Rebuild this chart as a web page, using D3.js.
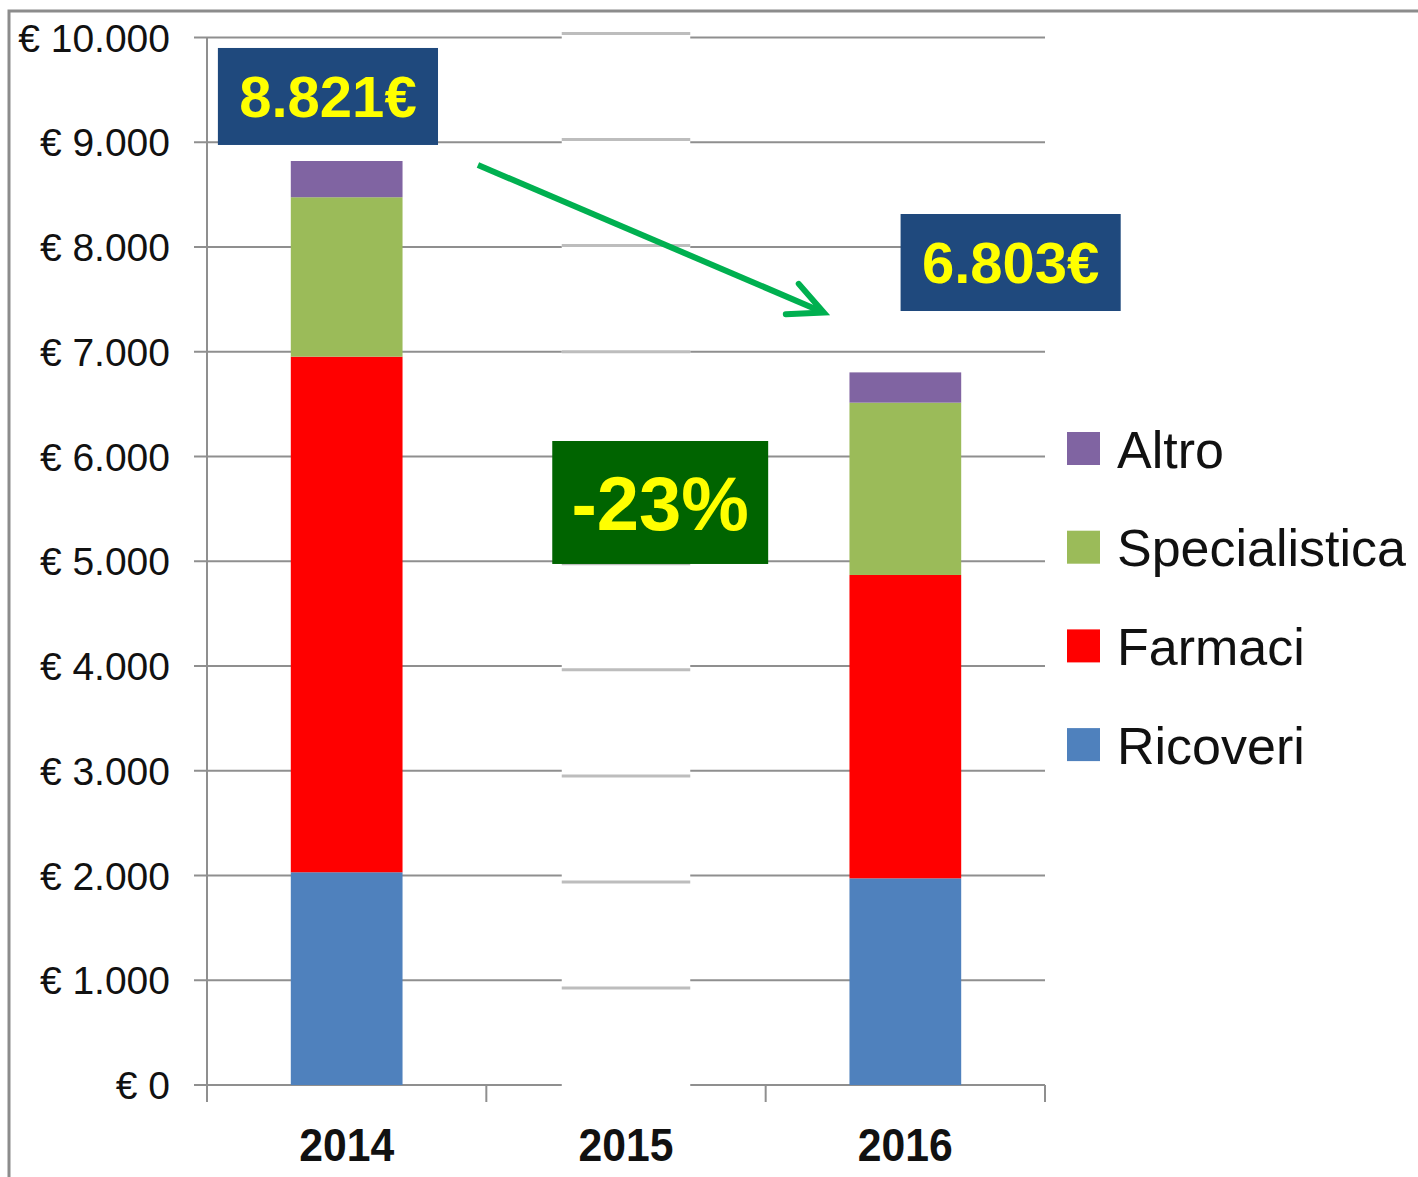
<!DOCTYPE html>
<html>
<head>
<meta charset="utf-8">
<script src="https://cdn.jsdelivr.net/npm/d3@7"></script>
<style>
  body { margin: 0; background: #fff; }
  svg { display: block; }
</style>
</head>
<body>
<div id="chart"></div>
<script>
// chart data
const years = ['2014', '2015', '2016'];
const seriesNames = ['Ricoveri', 'Farmaci', 'Specialistica', 'Altro'];
const ricoveri = [2031, 0, 1973];
const farmaci = [4922, 0, 2896];
const specialistica = [1522, 0, 1645];
const altro = [346, 0, 289];
const yTicks = [0, 1000, 2000, 3000, 4000, 5000, 6000, 7000, 8000, 9000, 10000];
const totalLabels = ['8.821€', '6.803€'];
const changeLabel = '-23%';

const colors = {
    Ricoveri: '#4F81BD',
    Farmaci: '#FF0000',
    Specialistica: '#9BBB59',
    Altro: '#8064A2'
};

const width = 1418, height = 1177;

const svg = d3.select('#chart').append('svg')
    .attr('width', width)
    .attr('height', height);

svg.append('rect').attr('width', width).attr('height', height).attr('fill', '#fff');

// outer frame (left and top edges visible)
svg.append('rect')
    .attr('x', 9).attr('y', 11)
    .attr('width', width + 20).attr('height', height + 20)
    .attr('fill', 'none')
    .attr('stroke', '#8c8c8c')
    .attr('stroke-width', 3);

const x = d3.scaleBand()
    .domain(years)
    .range([207, 1045])
    .padding(0);

const y = d3.scaleLinear()
    .domain([0, 10000])
    .range([1085, 37.5]);

// the pasted-over 2015 strip has its own slightly different grid
const yStrip = d3.scaleLinear()
    .domain([1000, 10000])
    .range([988, 33.5]);

const bw = x.bandwidth();
const fmt = v => '€ ' + d3.format(',')(v).replace(/,/g, '.');

// gridlines
svg.append('g')
    .selectAll('line')
    .data(yTicks.slice(1))
    .enter().append('line')
    .attr('x1', 194).attr('x2', 1045)
    .attr('y1', d => y(d)).attr('y2', d => y(d))
    .attr('stroke', '#8f8f8f')
    .attr('stroke-width', 2);

// y axis line + ticks
svg.append('line')
    .attr('x1', 207).attr('x2', 207)
    .attr('y1', y(10000)).attr('y2', y(0))
    .attr('stroke', '#8f8f8f').attr('stroke-width', 2);

svg.append('line')
    .attr('x1', 194).attr('x2', 1045)
    .attr('y1', y(0)).attr('y2', y(0))
    .attr('stroke', '#8f8f8f').attr('stroke-width', 2);

// x axis tick marks at band edges
const edges = years.map(d => x(d)).concat([x(years[years.length - 1]) + bw]);
svg.append('g')
    .selectAll('line')
    .data(edges)
    .enter().append('line')
    .attr('x1', d => d).attr('x2', d => d)
    .attr('y1', y(0)).attr('y2', y(0) + 17)
    .attr('stroke', '#8f8f8f').attr('stroke-width', 2);

// y labels
svg.append('g')
    .selectAll('text')
    .data(yTicks)
    .enter().append('text')
    .attr('x', 170)
    .attr('y', d => y(d))
    .attr('dy', '0.36em')
    .attr('text-anchor', 'end')
    .attr('font-family', 'Liberation Sans, Arial, sans-serif')
    .attr('font-size', 39)
    .attr('fill', '#111')
    .text(fmt);

// white strip over 2015 with its own lighter grid
const stripX0 = x('2015') + bw * 0.27;
const stripX1 = x('2015') + bw * 0.73;
svg.append('rect')
    .attr('x', stripX0).attr('y', 25)
    .attr('width', stripX1 - stripX0).attr('height', y(0) - 20)
    .attr('fill', '#fff');

svg.append('g')
    .selectAll('line')
    .data(yTicks.slice(1))
    .enter().append('line')
    .attr('x1', stripX0).attr('x2', stripX1)
    .attr('y1', d => yStrip(d)).attr('y2', d => yStrip(d))
    .attr('stroke', '#bdbdbd')
    .attr('stroke-width', 3);

// x labels (condensed bold)
svg.append('g')
    .selectAll('text')
    .data(years)
    .enter().append('text')
    .attr('x', d => x(d) + bw / 2)
    .attr('y', 1161)
    .attr('text-anchor', 'middle')
    .attr('font-family', 'Liberation Sans, Arial, sans-serif')
    .attr('font-weight', 'bold')
    .attr('font-size', 47)
    .attr('textLength', 95)
    .attr('lengthAdjust', 'spacingAndGlyphs')
    .attr('fill', '#111')
    .text(d => d);

// stacked bars
const table = years.map((yr, i) => ({
    year: yr,
    Ricoveri: ricoveri[i],
    Farmaci: farmaci[i],
    Specialistica: specialistica[i],
    Altro: altro[i]
}));

const stacked = d3.stack().keys(seriesNames)(table);

svg.append('g')
    .selectAll('g')
    .data(stacked)
    .enter().append('g')
    .attr('fill', d => colors[d.key])
    .selectAll('rect')
    .data(d => d.filter(p => p[1] > p[0]))
    .enter().append('rect')
    .attr('x', d => x(d.data.year) + bw * 0.3)
    .attr('width', bw * 0.4)
    .attr('y', d => y(d[1]))
    .attr('height', d => y(d[0]) - y(d[1]));

// annotation boxes: year band, offset/width as share of band, top/bottom in values
const boxes = [
    { year: '2014', off: 0.039, w: 0.788, top: 9900, bottom: 8974, fill: '#1F497D', text: totalLabels[0], size: 58 },
    { year: '2016', off: 0.483, w: 0.788, top: 8315, bottom: 7389, fill: '#1F497D', text: totalLabels[1], size: 58 },
    { year: '2015', off: 0.236, w: 0.773, top: 6148, bottom: 4974, fill: '#006400', text: changeLabel, size: 76 }
];

const boxG = svg.append('g')
    .selectAll('g')
    .data(boxes)
    .enter().append('g');

boxG.append('rect')
    .attr('x', d => x(d.year) + bw * d.off)
    .attr('y', d => y(d.top))
    .attr('width', d => bw * d.w)
    .attr('height', d => y(d.bottom) - y(d.top))
    .attr('fill', d => d.fill);

boxG.append('text')
    .attr('x', d => x(d.year) + bw * (d.off + d.w / 2))
    .attr('y', d => (y(d.top) + y(d.bottom)) / 2)
    .attr('dy', '0.36em')
    .attr('text-anchor', 'middle')
    .attr('font-family', 'Liberation Sans, Arial, sans-serif')
    .attr('font-weight', 'bold')
    .attr('font-size', d => d.size)
    .attr('fill', '#FFFF00')
    .text(d => d.text);

// green arrow from 2014 total to 2016 total
const ax0 = x('2014') + bw * 0.97, ay0 = y(8783);
const ax1 = x('2016') + bw * 0.208, ay1 = y(7375);
const ang = Math.atan2(ay1 - ay0, ax1 - ax0);
const headLen = 38, headAng = Math.PI / 7;

svg.append('line')
    .attr('x1', ax0).attr('y1', ay0)
    .attr('x2', ax1 - Math.cos(ang) * 4).attr('y2', ay1 - Math.sin(ang) * 4)
    .attr('stroke', '#00B050')
    .attr('stroke-width', 6);

svg.append('path')
    .attr('d', d3.line()([
        [ax1 - headLen * Math.cos(ang - headAng), ay1 - headLen * Math.sin(ang - headAng)],
        [ax1, ay1],
        [ax1 - headLen * Math.cos(ang + headAng), ay1 - headLen * Math.sin(ang + headAng)]
    ]))
    .attr('fill', 'none')
    .attr('stroke', '#00B050')
    .attr('stroke-width', 6)
    .attr('stroke-linecap', 'round')
    .attr('stroke-linejoin', 'miter');

// legend (top to bottom: Altro .. Ricoveri)
const legendItems = seriesNames.slice().reverse();
const legend = svg.append('g')
    .selectAll('g')
    .data(legendItems)
    .enter().append('g')
    .attr('transform', (d, i) => `translate(1067, ${432 + i * 98.7})`);

legend.append('rect')
    .attr('width', 33).attr('height', 33)
    .attr('fill', d => colors[d]);

legend.append('text')
    .attr('x', 50)
    .attr('y', 17)
    .attr('dy', '0.36em')
    .attr('font-family', 'Liberation Sans, Arial, sans-serif')
    .attr('font-size', 52)
    .attr('fill', '#111')
    .text(d => d);
</script>
</body>
</html>
